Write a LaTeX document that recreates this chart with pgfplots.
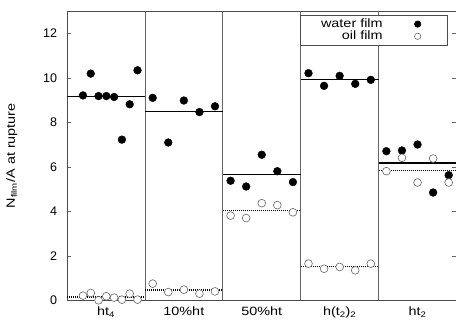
\documentclass[border=0pt]{standalone}
\usepackage{fontspec}
\setmainfont{Liberation Sans}
\newfontfamily\wide{Liberation Sans}[FakeStretch=1.2]
\usepackage{pgfplots}
\pgfplotsset{compat=1.18}
\begin{document}
\begin{tikzpicture}
\useasboundingbox (-67pt,-22pt) rectangle (389pt,300.3pt);
\begin{axis}[
  scale only axis,
  width=389.5pt, height=288.9pt,
  xmin=0, xmax=5, ymin=0, ymax=13,
  clip=false,
  axis line style={black!70, line width=0.6pt},
  ytick={0,2,4,6,8,10,12},
  tick align=inside,
  ytick pos=both,
  major tick length=4pt,
  tick style={black!60, line width=0.6pt},
  /pgf/number format/assume math mode=true,
  yticklabel style={font=\fontsize{12.5}{14}\selectfont, xshift=-6.5pt},
  xtick={0.5,1.5,2.5,3.5,4.5},
  xticklabels={ht\textsubscript{4},10\%ht,50\%ht,h(t\textsubscript{2})\textsubscript{2},ht\textsubscript{2}},
  xticklabel style={font=\wide\fontsize{12}{14}\selectfont, yshift=-3pt},
  x tick style={draw=none},
  ylabel={N\textsubscript{film}/A at rupture},
  ylabel style={font=\wide\fontsize{12}{14}\selectfont, at={(axis description cs:0,0.5)}, anchor=south, yshift=46pt},
  legend plot pos=right,
  legend image code/.code={\path[draw=none,fill=none] (0pt,-3pt) rectangle (65pt,3pt); \draw[#1, mark size=3.2pt] plot[only marks] coordinates {(35pt,0pt)};},
  legend style={at={(1,1)}, anchor=north east, xshift=-8.5pt, yshift=-3.3pt,
    draw=black!70, line width=0.6pt, inner xsep=0pt, inner ysep=3pt,
    font=\wide\fontsize{12}{14}\selectfont,
    nodes={inner xsep=0pt, inner ysep=1pt, text width=82pt, align=right},
    row sep=0pt, column sep=0pt},
]
% separators
\addplot[black!60, line width=0.6pt, forget plot] coordinates {(1,0) (1,13)};
\addplot[black!60, line width=0.6pt, forget plot] coordinates {(2,0) (2,13)};
\addplot[black!60, line width=0.6pt, forget plot] coordinates {(3,0) (3,13)};
\addplot[black!60, line width=0.6pt, forget plot] coordinates {(4,0) (4,13)};
% water means
\addplot[black, line width=1.2pt, forget plot] coordinates {(0,9.18) (1,9.18)};
\addplot[black, line width=1.2pt, forget plot] coordinates {(1,8.48) (2,8.48)};
\addplot[black, line width=1.2pt, forget plot] coordinates {(2,5.65) (3,5.65)};
\addplot[black, line width=1.2pt, forget plot] coordinates {(3,9.93) (4,9.93)};
\addplot[black, line width=1.2pt, forget plot] coordinates {(4,6.18) (5,6.18)};
% oil means
\addplot[black, line width=1.4pt, dash pattern=on 1pt off 1pt, forget plot] coordinates {(0,0.15) (1,0.15)};
\addplot[black, line width=1.4pt, dash pattern=on 1pt off 1pt, forget plot] coordinates {(1,0.46) (2,0.46)};
\addplot[black, line width=1.4pt, dash pattern=on 1pt off 1pt, forget plot] coordinates {(2,4.03) (3,4.03)};
\addplot[black, line width=1.4pt, dash pattern=on 1pt off 1pt, forget plot] coordinates {(3,1.51) (4,1.51)};
\addplot[black, line width=1.4pt, dash pattern=on 1pt off 1pt, forget plot] coordinates {(4,5.84) (5,5.84)};
% water film
\addplot[only marks, mark=*, mark size=3.9pt, black, mark options={fill=black}]
coordinates {
(0.205,9.22) (0.305,10.20) (0.405,9.19) (0.505,9.19) (0.605,9.15) (0.705,7.23) (0.805,8.82) (0.905,10.35)
(1.1,9.11) (1.3,7.10) (1.5,8.99) (1.7,8.47) (1.9,8.73)
(2.1,5.38) (2.3,5.12) (2.5,6.55) (2.7,5.81) (2.9,5.32)
(3.1,10.22) (3.3,9.65) (3.5,10.10) (3.7,9.74) (3.9,9.92)
(4.1,6.71) (4.3,6.74) (4.5,7.01) (4.7,4.85) (4.9,5.63)
};
\addlegendentry{water film}
% oil film
\addplot[only marks, mark=*, mark size=3.9pt, black!60, mark options={fill=white, line width=0.6pt}]
coordinates {
(0.205,0.21) (0.305,0.33) (0.405,0.00) (0.505,0.18) (0.605,0.12) (0.705,0.03) (0.805,0.30) (0.905,0.03)
(1.1,0.75) (1.3,0.37) (1.5,0.48) (1.7,0.30) (1.9,0.40)
(2.1,3.81) (2.3,3.70) (2.5,4.37) (2.7,4.28) (2.9,3.96)
(3.1,1.65) (3.3,1.42) (3.5,1.50) (3.7,1.35) (3.9,1.65)
(4.1,5.81) (4.3,6.41) (4.5,5.30) (4.7,6.38) (4.9,5.30)
};
\addlegendentry{oil film}
\end{axis}
\end{tikzpicture}
\end{document}
